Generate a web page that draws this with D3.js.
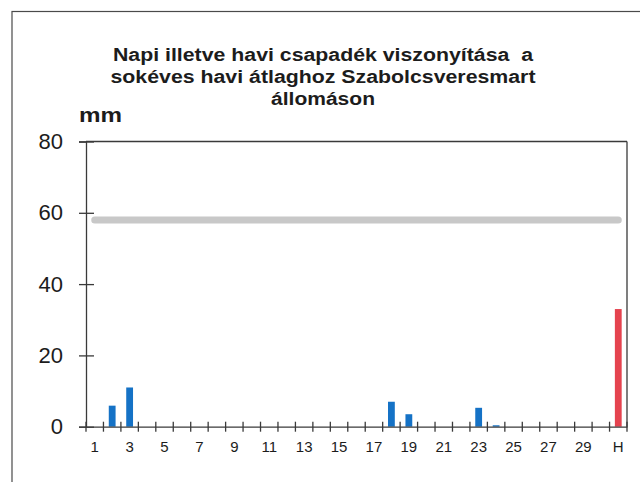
<!DOCTYPE html>
<html>
<head>
<meta charset="utf-8">
<script src="https://cdn.jsdelivr.net/npm/d3@7"></script>
<style>
  html, body { margin: 0; padding: 0; background: #ffffff; }
  svg { display: block; }
  text { font-family: "Liberation Sans", Arial, sans-serif; fill: #1c1c1c; }
</style>
</head>
<body>
<svg id="chart" width="640" height="482"></svg>
<script>
// ---- data ----
const categories = ["1","2","3","4","5","6","7","8","9","10","11","12","13","14","15","16","17","18","19","20","21","22","23","24","25","26","27","28","29","30","H"];
const dailyPrecip = [0, 5.9, 11.0, 0, 0, 0, 0, 0, 0, 0, 0, 0, 0, 0, 0, 0, 0, 7.0, 3.5, 0, 0, 0, 5.3, 0.4, 0, 0, 0, 0, 0, 0];
const monthlyTotal = 33.0;
const longTermMonthlyAvg = 58.0;
const xTickLabels = ["1","3","5","7","9","11","13","15","17","19","21","23","25","27","29","H"];
const yTickValues = [0, 20, 40, 60, 80];
const titleLines = ["Napi illetve havi csapadék viszonyítása  a", "sokéves havi átlaghoz Szabolcsveresmart", "állomáson"];
const yUnit = "mm";

// ---- layout ----
const svg = d3.select("#chart");
const plotL = 86, plotR = 627, plotT = 141.5, plotB = 426.7;
const axisColor = "#3a3a3a";

const x = d3.scaleBand().domain(categories).range([plotL, plotR]).paddingInner(0).paddingOuter(0);
const y = d3.scaleLinear().domain([0, 80]).range([plotB, plotT]);

// outer frame
svg.append("rect").attr("x", 12).attr("y", 11.5).attr("width", 660).attr("height", 500)
  .attr("fill", "none").attr("stroke", "#4a4a4a").attr("stroke-width", 1.2);

// title
const titleWidths = [420, 425, 104];
const titleBase = [61, 83, 104.5];
titleLines.forEach((t, i) => {
  svg.append("text").attr("x", 323).attr("y", titleBase[i])
    .attr("text-anchor", "middle").attr("font-weight", "bold").attr("font-size", 18)
    .attr("textLength", titleWidths[i]).attr("lengthAdjust", "spacingAndGlyphs")
    .style("white-space", "pre")
    .text(t);
});

// unit
svg.append("text").attr("x", 79).attr("y", 122).attr("font-weight", "bold").attr("font-size", 20)
  .attr("textLength", 43).attr("lengthAdjust", "spacingAndGlyphs").text(yUnit);

// long-term average line
const first = categories[0], last = categories[categories.length - 1];
svg.append("line")
  .attr("x1", x(first) + x.bandwidth() / 2).attr("x2", x(last) + x.bandwidth() / 2)
  .attr("y1", y(longTermMonthlyAvg)).attr("y2", y(longTermMonthlyAvg))
  .attr("stroke", "#c8c8c8").attr("stroke-width", 7).attr("stroke-linecap", "round");

// bars
const barW = x.bandwidth() * 0.39;
const barData = categories.map((c, i) => ({ c, v: i < dailyPrecip.length ? dailyPrecip[i] : monthlyTotal, monthly: i >= dailyPrecip.length }));
svg.append("g").selectAll("rect").data(barData.filter(d => d.v > 0)).join("rect")
  .attr("x", d => x(d.c) + (x.bandwidth() - barW) / 2)
  .attr("width", barW)
  .attr("y", d => y(d.v))
  .attr("height", d => y(0) - y(d.v))
  .attr("fill", d => d.monthly ? "#e5434f" : "#1572c6");

// plot frame: top & right
svg.append("line").attr("x1", plotL).attr("x2", plotR).attr("y1", plotT).attr("y2", plotT)
  .attr("stroke", axisColor).attr("stroke-width", 1.3);
svg.append("line").attr("x1", plotR).attr("x2", plotR).attr("y1", plotT).attr("y2", plotB)
  .attr("stroke", axisColor).attr("stroke-width", 1.3);

// y axis
const yAxis = svg.append("g").attr("transform", `translate(${plotL},0)`)
  .call(d3.axisLeft(y).tickValues(yTickValues).tickSize(7).tickPadding(16).tickFormat(d3.format("d")));
yAxis.select(".domain").attr("stroke", axisColor).attr("stroke-width", 1.3);
yAxis.selectAll(".tick line").attr("x1", 8).attr("x2", -7).attr("stroke", axisColor).attr("stroke-width", 1.3);
yAxis.selectAll(".tick text").attr("font-size", 22).attr("fill", "#1c1c1c")
  .style("font-family", '"Liberation Sans", Arial, sans-serif').attr("x", -23);

// x axis (labels)
const xAxis = svg.append("g").attr("transform", `translate(0,${plotB})`)
  .call(d3.axisBottom(x).tickValues(xTickLabels).tickSize(0).tickPadding(15));
xAxis.select(".domain").attr("stroke", axisColor).attr("stroke-width", 1.3);
xAxis.selectAll(".tick text").attr("font-size", 15).attr("fill", "#1c1c1c")
  .style("font-family", '"Liberation Sans", Arial, sans-serif');

// x boundary ticks
const boundaries = categories.map(c => x(c)).concat([x(last) + x.bandwidth()]);
svg.append("g").selectAll("line").data(boundaries).join("line")
  .attr("x1", d => d).attr("x2", d => d)
  .attr("y1", plotB - 5).attr("y2", plotB + 5)
  .attr("stroke", axisColor).attr("stroke-width", 1.3);
</script>
</body>
</html>
